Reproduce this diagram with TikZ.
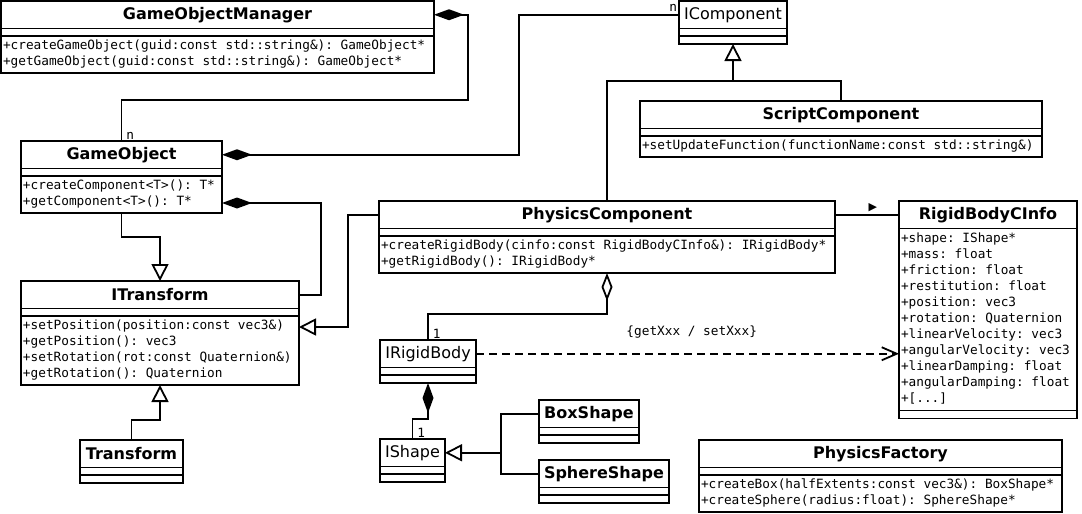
\documentclass[tikz,border=0pt]{standalone}
\usepackage{fontspec}
\setmainfont{DejaVu Sans}
\setmonofont{DejaVu Sans Mono}
\usepackage{tikz}
\usetikzlibrary{positioning,arrows.meta}
\frenchspacing

\begin{document}
\begin{tikzpicture}[x=1pt, y=-1pt, line width=1.8pt,
        clsname/.style={draw, outer sep=0pt, inner sep=0pt, minimum width=#1, minimum height=27.5pt, font=\fontsize{16}{19}\selectfont\bfseries},
        clsiface/.style={clsname=#1, font=\fontsize{16}{19}\selectfont},
        clssep/.style={draw, outer sep=0pt, inner sep=0pt, minimum width=#1, minimum height=7.5pt},
        clsend/.style={draw, outer sep=0pt, inner sep=0pt, minimum width=#1, minimum height=8pt},
        clsops/.style={draw, outer sep=0pt, inner xsep=2pt, inner ysep=2.5pt, text width=#1, align=left, font=\ttfamily\fontsize{12.75}{16}\selectfont, execute at begin node={\spaceskip=0.602em\relax\strut}, execute at end node=\strut},
        mult/.style={inner sep=1pt, font=\ttfamily\fontsize{12.75}{16}\selectfont, execute at begin node={\spaceskip=0.602em\relax}},
        comp/.style={{Diamond[length=30pt,width=11pt]}-},
        aggr/.style={{Diamond[open,length=28pt,width=11pt]}-},
        gen/.style={-{Triangle[open,length=17pt,width=17pt]}},
        dep/.style={dash pattern=on 8pt off 5pt, -{Straight Barb[length=15pt,width=13pt]}}]
        \useasboundingbox (0,0) rectangle (1082,514);

        \node[clsname=433pt, anchor=north west] (gom) at (1,1) {GameObjectManager};
        \node[clssep=433pt, below=0pt of gom] (gom-a) {};
        \node[clsops=429pt, below=0pt of gom-a] (gom-o) {+createGameObject(guid:const std::string\&): GameObject*\\+getGameObject(guid:const std::string\&): GameObject*};

        \node[clsiface=108pt, anchor=north west] (icomp) at (679,1) {IComponent};
        \node[clssep=108pt, below=0pt of icomp] (icomp-a) {};
        \node[clsend=108pt, below=0pt of icomp-a] (icomp-o) {};

        \node[clsname=402pt, anchor=north west] (sc) at (640,101) {ScriptComponent};
        \node[clssep=402pt, below=0pt of sc] (sc-a) {};
        \node[clsops=398pt, below=0pt of sc-a] (sc-o) {+setUpdateFunction(functionName:const std::string\&)};

        \node[clsname=201pt, anchor=north west] (go) at (21,141) {GameObject};
        \node[clssep=201pt, below=0pt of go] (go-a) {};
        \node[clsops=197pt, below=0pt of go-a] (go-o) {+createComponent<T>(): T*\\+getComponent<T>(): T*};

        \node[clsname=278pt, anchor=north west] (itf) at (21,281) {ITransform};
        \node[clssep=278pt, below=0pt of itf] (itf-a) {};
        \node[clsops=274pt, below=0pt of itf-a] (itf-o) {+setPosition(position:const vec3\&)\\+getPosition(): vec3\\+setRotation(rot:const Quaternion\&)\\+getRotation(): Quaternion};

        \node[clsname=103pt, anchor=north west] (tf) at (80,440) {Transform};
        \node[clssep=103pt, below=0pt of tf] (tf-a) {};
        \node[clsend=103pt, below=0pt of tf-a] (tf-o) {};

        \node[clsname=456pt, anchor=north west] (pc) at (379,201) {PhysicsComponent};
        \node[clssep=456pt, below=0pt of pc] (pc-a) {};
        \node[clsops=452pt, below=0pt of pc-a] (pc-o) {+createRigidBody(cinfo:const RigidBodyCInfo\&): IRigidBody*\\+getRigidBody(): IRigidBody*};

        \node[clsname=178pt, anchor=north west] (rbci) at (899,201) {RigidBodyCInfo};
        \node[clsops=174pt, inner ysep=3pt, below=0pt of rbci] (rbci-a) {+shape: IShape*\\+mass: float\\+friction: float\\+restitution: float\\+position: vec3\\+rotation: Quaternion\\+linearVelocity: vec3\\+angularVelocity: vec3\\+linearDamping: float\\+angularDamping: float\\+[...]};
        \node[clsend=178pt, below=0pt of rbci-a] (rbci-o) {};

        \node[clsiface=96pt, anchor=north west] (irb) at (380,340) {IRigidBody};
        \node[clssep=96pt, below=0pt of irb] (irb-a) {};
        \node[clsend=96pt, below=0pt of irb-a] (irb-o) {};

        \node[clsiface=65pt, anchor=north west] (ish) at (380,439) {IShape};
        \node[clssep=65pt, below=0pt of ish] (ish-a) {};
        \node[clsend=65pt, below=0pt of ish-a] (ish-o) {};

        \node[clsname=100pt, anchor=north west] (boxs) at (539,400) {BoxShape};
        \node[clssep=100pt, below=0pt of boxs] (boxs-a) {};
        \node[clsend=100pt, below=0pt of boxs-a] (boxs-o) {};

        \node[clsname=130pt, anchor=north west] (sph) at (539,460) {SphereShape};
        \node[clssep=130pt, below=0pt of sph] (sph-a) {};
        \node[clsend=130pt, below=0pt of sph-a] (sph-o) {};

        \node[clsname=363pt, anchor=north west] (pf) at (699,440) {PhysicsFactory};
        \node[clssep=363pt, below=0pt of pf] (pf-a) {};
        \node[clsops=359pt, below=0pt of pf-a] (pf-o) {+createBox(halfExtents:const vec3\&): BoxShape*\\+createSphere(radius:float): SphereShape*};

        \draw[comp] (gom.east) -| (468,100) -| (go.north);
        \node[mult, anchor=south west, xshift=3pt] (go-n) at (go.north) {n};
        \draw[comp] (go.east) -- ++(297,0) |- (icomp.west);
        \node[mult, anchor=south east, yshift=1pt] (icomp-n) at (icomp.west) {n};
        \draw[comp] ([yshift=-8.5pt]go-o.east) -- ++(99,0) |- (itf.east);
        \draw[gen] (go-o.south) -- ++(0,24) -| (itf.north);
        \draw[gen] (tf.north) -- ++(0,-20) -| (itf-o.south);
        \draw[gen] (pc.west) -- ++(-31,0) |- ([yshift=-11pt]itf-o.north east);

        \path (icomp-o.south) -- ++(0,37) coordinate (ihub);
        \draw[gen] (ihub) -- (icomp-o.south);
        \draw (pc.north) |- (ihub);
        \draw (sc.north) |- (ihub);

        \draw (pc.east) -- (rbci.west) node[pos=0.59, yshift=7.5pt, inner sep=0pt, font=\fontsize{11}{11}\selectfont] {▶};
        \draw[aggr] (pc-o.south) -- ++(0,41) -| (irb.north);
        \node[mult, anchor=south west, xshift=3pt] (irb-n) at (irb.north) {1};
        \draw[dep] (irb.east) -- (irb.east -| rbci-a.west) node[mult, pos=0.51, yshift=22pt] {\{getXxx / setXxx\}};
        \draw[comp] (irb-o.south) -- ++(0,36) -| (ish.north);
        \node[mult, anchor=south west, xshift=3pt] (ish-n) at (ish.north) {1};

        \path (ish.east) -- ++(56,0) coordinate (shub);
        \draw[gen] (shub) -- (ish.east);
        \draw (boxs.west) -| (shub);
        \draw (sph.west) -| (shub);
    \end{tikzpicture}
\end{document}
